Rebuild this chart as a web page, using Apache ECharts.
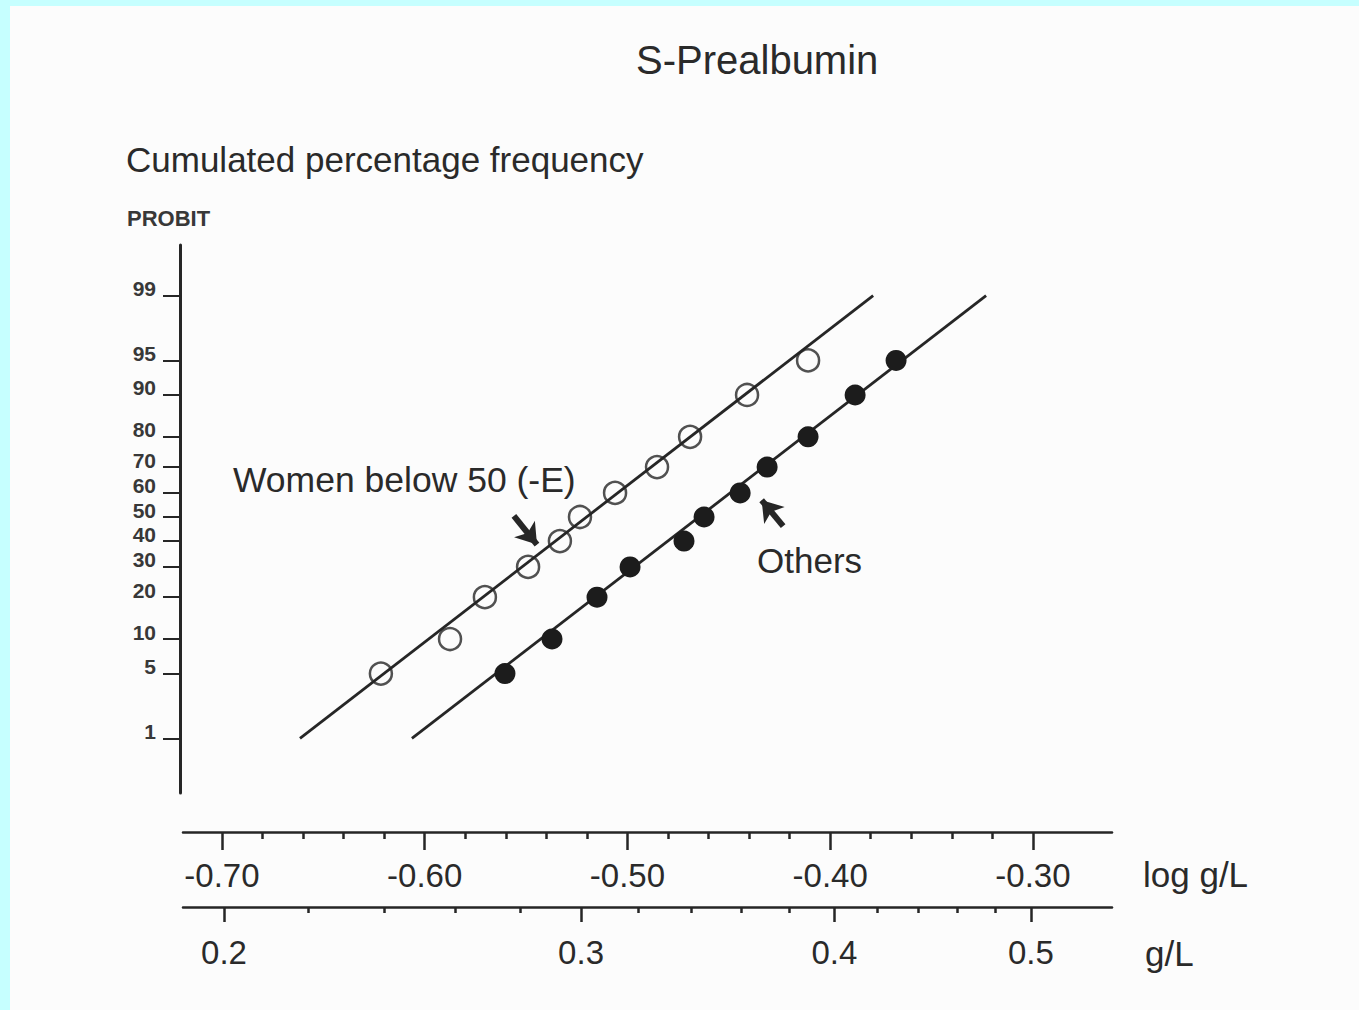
<!DOCTYPE html>
<html>
<head>
<meta charset="utf-8">
<title>S-Prealbumin</title>
<script src="https://cdn.jsdelivr.net/npm/echarts@6/dist/echarts.min.js"></script>
<style>
  html, body { margin: 0; padding: 0; background: #fcfcfc; }
  #chart { width: 1359px; height: 1010px; }
</style>
</head>
<body>
<div id="chart"></div>
<script>
// ---------------- data ----------------
const probitTicks = [1, 5, 10, 20, 30, 40, 50, 60, 70, 80, 90, 95, 99];
const logTicks = [-0.70, -0.60, -0.50, -0.40, -0.30];
const logMinorTicks = [-0.68, -0.66, -0.64, -0.62, -0.58, -0.56, -0.54, -0.52,
                       -0.48, -0.46, -0.44, -0.42, -0.38, -0.36, -0.34, -0.32];
const glTicks = [0.2, 0.3, 0.4, 0.5];
const glMinorTicks = [0.22, 0.24, 0.26, 0.28, 0.32, 0.34, 0.36, 0.38, 0.42, 0.44, 0.46, 0.48];

// cumulated percentage frequency of each plotted point
const womenPct  = [5, 10, 20, 30, 40, 50, 60, 70, 80, 90, 95];
const womenLog  = [-0.6216, -0.5875, -0.5703, -0.5490, -0.5333, -0.5234, -0.5061, -0.4854, -0.4691, -0.4410, -0.4109];
const othersPct = [5, 10, 20, 30, 40, 50, 60, 70, 80, 90, 95];
const othersLog = [-0.5604, -0.5372, -0.5150, -0.4987, -0.4721, -0.4622, -0.4444, -0.4311, -0.4109, -0.3877, -0.3675];

// fitted straight lines (log g/L, percent)
const womenFitLog  = [-0.6615, -0.3788];
const womenFitPct  = [1, 99];
const othersFitLog = [-0.6063, -0.3231];
const othersFitPct = [1, 99];

// annotation arrows (tail -> head), (log g/L, percent)
const womenArrowLog  = [-0.5560, -0.5446];
const womenArrowPct  = [50.5, 38.6];
const othersArrowLog = [-0.4232, -0.4338];
const othersArrowPct = [46.2, 57.0];

// ---------------- probit transform ----------------
function probit(p) {
  const a = [-3.969683028665376e+01, 2.209460984245205e+02, -2.759285104469687e+02, 1.383577518672690e+02, -3.066479806614716e+01, 2.506628277459239e+00];
  const b = [-5.447609879822406e+01, 1.615858368580409e+02, -1.556989798598866e+02, 6.680131188771972e+01, -1.328068155288572e+01];
  const c = [-7.784894002430293e-03, -3.223964580411365e-01, -2.400758277161838e+00, -2.549732539343734e+00, 4.374664141464968e+00, 2.938163982698783e+00];
  const d = [7.784695709041462e-03, 3.224671290700398e-01, 2.445134137142996e+00, 3.754408661907416e+00];
  const pl = 0.02425, ph = 1 - pl;
  let q, r;
  if (p < pl) {
    q = Math.sqrt(-2 * Math.log(p));
    return (((((c[0]*q+c[1])*q+c[2])*q+c[3])*q+c[4])*q+c[5]) / ((((d[0]*q+d[1])*q+d[2])*q+d[3])*q+1);
  }
  if (p <= ph) {
    q = p - 0.5; r = q * q;
    return (((((a[0]*r+a[1])*r+a[2])*r+a[3])*r+a[4])*r+a[5])*q / (((((b[0]*r+b[1])*r+b[2])*r+b[3])*r+b[4])*r+1);
  }
  q = Math.sqrt(-2 * Math.log(1 - p));
  return -(((((c[0]*q+c[1])*q+c[2])*q+c[3])*q+c[4])*q+c[5]) / ((((d[0]*q+d[1])*q+d[2])*q+d[3])*q+1);
}
const P = pct => probit(pct / 100);
const pairs = (xs, ps) => xs.map((x, i) => [x, P(ps[i])]);

// ---------------- chart ----------------
const FONT = "'Liberation Sans', Arial, Helvetica, sans-serif";
const INK = '#262626';
const TXT = '#2a2a2a';
const X_MIN = -0.7192, X_MAX = -0.2610;
const Y_MIN = -2.899, Y_MAX = 2.857;

const probitTickZ = probitTicks.map(P);

const chart = echarts.init(document.getElementById('chart'), null, { renderer: 'svg' });

function xAxisBase(offset) {
  return {
    type: 'value', position: 'bottom', offset: offset,
    min: X_MIN, max: X_MAX,
    splitLine: { show: false },
    axisPointer: { show: false }
  };
}

chart.setOption({
  backgroundColor: '#fcfcfc',
  animation: false,
  title: {
    text: 'S-Prealbumin',
    left: 631, top: 35,
    textStyle: { fontFamily: FONT, fontSize: 40, fontWeight: 'normal', color: TXT }
  },
  grid: { left: 183, right: 247, top: 245, bottom: 217, containLabel: false },
  xAxis: [
    Object.assign(xAxisBase(39), {
      axisLine: { show: true, onZero: false, lineStyle: { color: INK, width: 2.5 } },
      axisTick: { show: true, length: 18, customValues: logTicks, lineStyle: { color: INK, width: 2.5 } },
      axisLabel: { show: true, customValues: logTicks, formatter: v => v.toFixed(2), margin: 27,
                   fontFamily: FONT, fontSize: 33, color: TXT }
    }),
    Object.assign(xAxisBase(39), {
      axisLine: { show: false, onZero: false },
      axisTick: { show: true, length: 7, customValues: logMinorTicks, lineStyle: { color: INK, width: 2.5 } },
      axisLabel: { show: false }
    }),
    Object.assign(xAxisBase(114), {
      axisLine: { show: true, onZero: false, lineStyle: { color: INK, width: 2.5 } },
      axisTick: { show: true, length: 15, customValues: glTicks.map(Math.log10), lineStyle: { color: INK, width: 2.5 } },
      axisLabel: { show: true, customValues: glTicks.map(Math.log10),
                   formatter: v => Math.pow(10, v).toFixed(1), margin: 29,
                   fontFamily: FONT, fontSize: 33, color: TXT }
    }),
    Object.assign(xAxisBase(114), {
      axisLine: { show: false, onZero: false },
      axisTick: { show: true, length: 6, customValues: glMinorTicks.map(Math.log10), lineStyle: { color: INK, width: 2.5 } },
      axisLabel: { show: false }
    })
  ],
  yAxis: {
    type: 'value', position: 'left', offset: 3,
    min: Y_MIN, max: Y_MAX,
    splitLine: { show: false },
    axisLine: { show: true, onZero: false, lineStyle: { color: INK, width: 3 } },
    axisTick: { show: true, length: 17, customValues: probitTickZ, lineStyle: { color: INK, width: 2 } },
    axisLabel: {
      show: true, customValues: probitTickZ, margin: 24,
      formatter: v => {
        const t = probitTicks.find(p => Math.abs(P(p) - v) < 1e-6);
        return t === undefined ? '' : String(t);
      },
      fontFamily: FONT, fontSize: 21, fontWeight: 'bold', color: '#383838',
      verticalAlign: 'bottom', lineHeight: 14
    }
  },
  series: [
    {
      name: 'Women fit', type: 'line', xAxisIndex: 0, yAxisIndex: 0,
      data: pairs(womenFitLog, womenFitPct), symbol: 'none', silent: true,
      lineStyle: { color: INK, width: 2.8 }, z: 2
    },
    {
      name: 'Others fit', type: 'line', xAxisIndex: 0, yAxisIndex: 0,
      data: pairs(othersFitLog, othersFitPct), symbol: 'none', silent: true,
      lineStyle: { color: INK, width: 2.8 }, z: 2
    },
    {
      name: 'Women below 50 (-E)', type: 'scatter', xAxisIndex: 0, yAxisIndex: 0,
      data: pairs(womenLog, womenPct), symbol: 'circle', symbolSize: 22,
      itemStyle: { color: 'rgba(0,0,0,0)', borderColor: INK, borderWidth: 2.5 }, z: 3
    },
    {
      name: 'Others', type: 'scatter', xAxisIndex: 0, yAxisIndex: 0,
      data: pairs(othersLog, othersPct), symbol: 'circle', symbolSize: 21,
      itemStyle: { color: '#1c1c1c', opacity: 1 }, z: 3
    },
    {
      name: 'arrows', type: 'lines', coordinateSystem: 'cartesian2d', xAxisIndex: 0, yAxisIndex: 0,
      symbol: ['none', 'arrow'], symbolSize: 20, silent: true,
      lineStyle: { color: INK, width: 6, opacity: 1, curveness: 0 },
      data: [
        { coords: pairs(womenArrowLog, womenArrowPct) },
        { coords: pairs(othersArrowLog, othersArrowPct) }
      ], z: 4
    }
  ],
  graphic: [
    { type: 'rect', left: 0, top: 0, shape: { width: 1359, height: 6 }, style: { fill: '#c6ffff' }, silent: true },
    { type: 'rect', left: 0, top: 0, shape: { width: 10, height: 1010 }, style: { fill: '#c6ffff' }, silent: true },
    { type: 'text', left: 126, top: 142, style: { text: 'Cumulated percentage frequency', font: "35px " + FONT, fill: TXT } },
    { type: 'text', left: 127, top: 207, style: { text: 'PROBIT', font: "bold 22px " + FONT, fill: '#383838' } },
    { type: 'text', left: 233, top: 462, style: { text: 'Women below 50 (-E)', font: "35.5px " + FONT, fill: TXT } },
    { type: 'text', left: 757, top: 543, style: { text: 'Others', font: "35px " + FONT, fill: TXT } },
    { type: 'text', left: 1143, top: 857, style: { text: 'log g/L', font: "35px " + FONT, fill: TXT } },
    { type: 'text', left: 1145, top: 936, style: { text: 'g/L', font: "35px " + FONT, fill: TXT } }
  ]
});
</script>
</body>
</html>
